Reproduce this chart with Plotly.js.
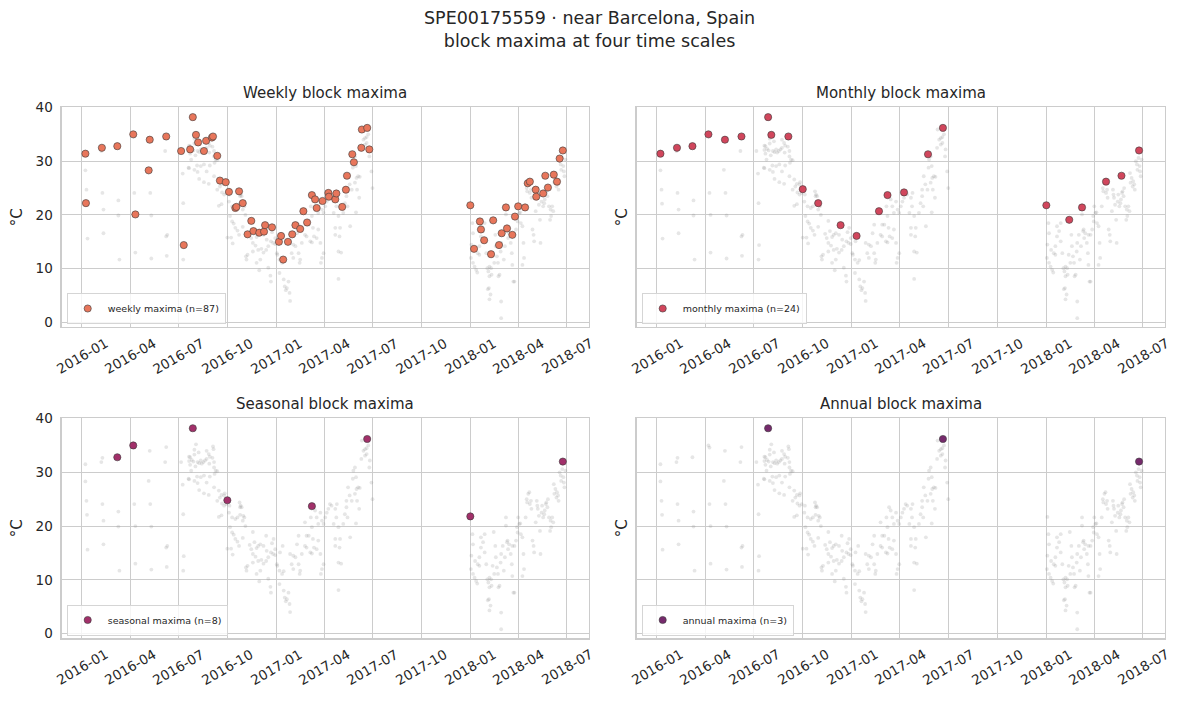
<!DOCTYPE html>
<html>
<head>
<meta charset="utf-8">
<script src="https://cdn.plot.ly/plotly-3.0.1.min.js"></script>
<style>html,body{margin:0;padding:0;background:#fff}#chart{width:1179px;height:702px}</style>
</head>
<body>
<div id="chart"></div>
<script>
// ---------------- DATA ----------------
// daily observations: days since 2016-01-01 and temperature (°C)
const dailyBase = '2016-01-01';
const dailyDays = [
  7,7,9,10,11, 37,39,39,41,41, 67,69,69,71, 97,99,99,101,101, 126,128,129,131,131, 157,159,159,161,160,
  187,190,191,192,191,202,202,209,
  215,212,220,235,247,248,239,204,207,202,212,224,229,232,235,241,246,218,210,204,214,221,226,240,249,252,255,249,
  201,212,217,224,230,241,250,235,218,206,
  221,230,239,249,258,263,260,268,269,
  255,264,272,278,268,277,258,263,283,289,293,298,
  279,283,286,289,293,281,274,284,296,
  297,299,301,298,304,303,308,306,303,322, 316,325,319,329,332,336,342,347,348,358,
  361,356,360,364,322,327,332,338,342,347, 351,309,310,329,336,351,355,356,334,322, 312,367,364,
  368,372,377,380,372,380,382,386,389,391, 392,384,378,373,392,398,402,405,408,410,
  411,414,420,423,427,430,433,435,437,442, 445,449,452,450,455,395,398,408,420,423,
  431,433,436,439,442,445,452,455,449,
  458,461,464,467,470,477,480,474,479,483, 486,485,477,477,483,488,483,492,495,498,
  500,505,498,501,504,508,514,517,520,523, 518,522,516,510,511,514,516,526,530,533,
  536,539,541,542,545,547,536,533,527,537,
  733,735,736,733,732,736,739,742,744,740, 745,748,751,748,751,755,758,761,758,763,
  765,767,770,771,773,776,775,778,779,783, 781,784,786,788,789,792,794,796,798,798,
  800,801,802,804,807,809,810,812,810,814, 817,819,820,821,823,825,826,829,831,832,
  829,835,837,838,840,842,843,845,846,848, 850,851,854,856,857,858,860,862,863,865,
  866,868,870,871,873,874,876,877,879,881, 882,883,885,887,888,889,891,893,894,896,
  897,899,901,902,904,906,907,908,910,764, 767,766,769,789,789,814,767,905
];
const dailyTemps = [
  31.5,28.3,24.7,22.1,15.6, 31.9,32.7,24.1,21.0,16.6, 32.8,22.7,19.9,11.7, 35.0,34.6,24.1,20.0,13.0, 28.4,34.0,24.1,19.9,11.9, 31.9,34.7,16.0,16.3,12.4,
  31.9,27.7,22.2,14.4,11.7,32.9,28.7,38.2,
  35.2,34.2,33.7,34.0,34.8,34.3,33.4,32.8,32.3,32.1,33.3,32.2,31.9,32.2,32.5,32.9,32.7,31.9,32.0,31.4,31.1,31.7,31.6,31.6,31.9,30.3,30.2,30.9,
  28.8,28.4,29.2,29.1,29.4,29.2,29.7,28.1,28.0,30.3,
  26.7,26.1,25.8,27.2,26.6,25.8,25.3,25.7,26.1,
  24.7,24.2,24.1,23.8,23.8,22.5,21.7,22.0,21.6,21.3,21.6,23.5,
  19.8,18.8,18.4,17.6,17.1,15.8,15.8,14.7,16.3,
  24.4,23.8,23.5,22.1,21.9,21.0,20.0,21.6,17.8,18.9, 16.5,17.0,15.7,15.9,16.3,16.6,16.3,18.2,15.4,16.8,
  17.6,15.1,14.8,14.6,14.8,14.3,13.5,13.7,13.0,13.5, 14.2,12.3,11.7,11.1,11.7,10.2,8.7,7.6,9.7,13.2, 12.6,12.9,15.7,
  12.6,11.7,11.1,11.6,9.2,8.0,6.7,6.4,7.6,5.5, 4.0,6.0,16.3,15.1,14.8,14.5,14.2,16.6,12.9,11.1,
  11.7,14.8,16.3,16.0,18.2,15.1,14.9,17.6,16.0,15.7, 17.3,14.8,12.0,11.1,12.9,12.9,12.0,18.2,20.7,18.2,
  21.6,19.8,23.5,22.9,21.6,20.4,21.0,20.4,22.5,
  21.6,22.5,23.2,24.1,23.8,23.2,24.1,20.4,21.6,19.8, 17.6,16.0,16.3,17.6,13.2,13.0,8.1,20.4,22.2,23.5,
  21.6,17.9,24.7,27.2,25.7,24.7,26.0,26.9,27.2,27.1, 24.7,23.2,20.5,28.8,30.3,30.9,29.1,32.5,34.0,34.3,
  34.5,35.0,30.9,32.2,28.1,25.0,33.4,33.1,35.9,36.2,
  21.7,18.5,16.6,14.5,12.0,11.1,10.4,9.8,9.3,13.5, 12.9,14.2,16.0,12.6,17.9,17.0,15.1,12.9,18.5,10.1,
  9.5,10.4,10.1,8.9,12.6,11.1,18.9,16.3,14.2,11.1, 12.3,8.6,8.9,13.2,14.8,16.3,11.7,14.2,21.6,20.1,
  17.0,17.3,15.7,16.6,14.8,12.9,10.7,7.6,16.3,16.3, 17.3,19.8,18.8,21.6,20.4,20.5,18.5,17.9,14.8,12.0,
  10.7,21.6,25.0,24.4,26.0,26.3,24.1,24.7,23.2,17.3, 16.3,15.1,20.7,24.7,23.8,23.2,21.9,19.1,14.8,22.5,
  23.8,21.6,22.2,22.9,24.1,24.4,23.5,25.0,21.6,19.1, 21.0,19.8,21.6,20.7,27.8,26.0,26.9,25.3,26.3,25.7,
  24.7,30.0,29.4,28.4,30.6,29.1,28.1,27.2,30.3,6.2, 4.3,6.4,5.2,3.9,0.8,7.6,8.6,32.0
];

const weeklyDates = [
  '2016-01-08','2016-01-09','2016-02-08','2016-03-08','2016-04-07','2016-04-11','2016-05-06','2016-05-08','2016-06-08',
  '2016-07-06','2016-07-11','2016-07-23','2016-07-28','2016-08-03','2016-08-07','2016-08-18','2016-08-22',
  '2016-09-02','2016-09-04','2016-09-12','2016-09-17','2016-09-28','2016-10-04','2016-10-16','2016-10-18','2016-10-23','2016-10-30',
  '2016-11-08','2016-11-15','2016-11-19','2016-11-30','2016-12-09','2016-12-11','2016-12-24',
  '2017-01-06','2017-01-10','2017-01-14','2017-01-23','2017-01-31','2017-02-06','2017-02-15','2017-02-21','2017-02-28',
  '2017-03-09','2017-03-15','2017-03-18','2017-03-29','2017-04-09','2017-04-10','2017-04-22','2017-04-24',
  '2017-05-05','2017-05-12','2017-05-14','2017-05-24','2017-05-27','2017-06-10','2017-06-11','2017-06-21','2017-06-25',
  '2018-01-01','2018-01-08','2018-01-19','2018-01-21','2018-01-27','2018-02-09','2018-02-13','2018-02-24',
  '2018-03-01','2018-03-09','2018-03-11','2018-03-21','2018-03-26','2018-04-01','2018-04-14','2018-04-19','2018-04-23',
  '2018-05-04','2018-05-05','2018-05-18','2018-05-22','2018-05-27','2018-06-07','2018-06-13','2018-06-18','2018-06-24'
];
const weeklyTemps = [
  31.4,22.2,32.5,32.8,35.0,20.1,28.3,34.0,34.6,
  31.9,14.4,32.2,38.2,34.9,33.5,31.9,33.8,
  34.4,34.6,31.0,26.4,26.1,24.3,21.3,21.5,24.4,22.2,
  16.4,18.9,17.0,16.7,16.9,18.1,17.7,
  15.0,16.1,11.7,15.0,16.4,18.1,17.4,20.7,18.6,
  23.7,22.9,21.3,22.6,24.1,23.4,22.9,24.0,
  21.5,24.7,27.3,31.3,29.8,32.5,35.9,36.2,32.2,
  21.8,13.7,18.8,17.3,15.3,12.7,19.0,14.4,
  16.6,21.4,17.5,16.3,19.7,21.6,21.4,25.9,26.2,
  24.7,23.4,24.0,27.3,25.1,27.5,26.2,30.5,32.0
];

const monthlyDates = [
  '2016-01-08','2016-02-08','2016-03-08','2016-04-07','2016-05-08','2016-06-08','2016-07-28','2016-08-03',
  '2016-09-04','2016-10-01','2016-10-30','2016-12-11','2017-01-10','2017-02-21','2017-03-09','2017-04-09',
  '2017-05-24','2017-06-21','2018-01-01','2018-02-13','2018-03-09','2018-04-23','2018-05-22','2018-06-24'
];
const monthlyTemps = [
  31.4,32.5,32.8,35.0,34.0,34.6,38.2,34.9,
  34.6,24.8,22.2,18.1,16.1,20.7,23.7,24.2,
  31.3,36.2,21.8,19.1,21.4,26.2,27.3,32.0
];

const seasonalDates = ['2016-03-08','2016-04-07','2016-07-28','2016-10-01','2017-03-09','2017-06-21','2018-01-01','2018-06-24'];
const seasonalTemps = [32.8,35.0,38.2,24.8,23.7,36.2,21.8,32.0];

const annualDates = ['2016-07-28','2017-06-21','2018-06-24'];
const annualTemps = [38.2,36.2,32.0];

const tickDates = ['2016-01-01','2016-04-01','2016-07-01','2016-10-01','2017-01-01','2017-04-01','2017-07-01','2017-10-01','2018-01-01','2018-04-01','2018-07-01'];
const tickLabels = ['2016-01','2016-04','2016-07','2016-10','2017-01','2017-04','2017-07','2017-10','2018-01','2018-04','2018-07'];
const yTicks = [0,10,20,30,40];

const mainTitle = 'SPE00175559 · near Barcelona, Spain<br>block maxima at four time scales';
const panelTitles = ['Weekly block maxima','Monthly block maxima','Seasonal block maxima','Annual block maxima'];
const seriesNames = ['weekly maxima (n=87)','monthly maxima (n=24)','seasonal maxima (n=8)','annual maxima (n=3)'];
const seriesColors = ['#E8765B','#D1465C','#A2306A','#762A6C'];

// ---------------- BUILD ----------------
function dayToDate(d){
  const t = Date.parse(dailyBase + 'T00:00:00Z') + d*86400000;
  return new Date(t).toISOString().slice(0,10);
}
const dailyDates = dailyDays.map(dayToDate);

const seriesX = [weeklyDates, monthlyDates, seasonalDates, annualDates];
const seriesY = [weeklyTemps, monthlyTemps, seasonalTemps, annualTemps];

const FONT = 'DejaVu Sans, sans-serif';
const TXT = '#262626';
const W = 1179, H = 702;
const xDom = [[61.7/W, 588.7/W], [636.7/W, 1165/W]];
const yDom = [[1-327.2/H, 1-107.2/H], [1-638.3/H, 1-418.3/H]];
const XRANGE = ['2015-11-24 10:00', '2018-08-11 16:00'];
const YRANGE = [-0.88, 40.05];

const traces = [];
const layout = {
  width: W, height: H,
  margin: {l:0, r:0, t:0, b:0},
  paper_bgcolor: '#fff', plot_bgcolor: '#fff',
  font: {family: FONT, color: TXT},
  showlegend: true,
  annotations: [{
    text: mainTitle, xref: 'paper', yref: 'paper', x: 0.5, y: 1,
    xanchor: 'center', yanchor: 'top', yshift: -6, showarrow: false,
    font: {family: FONT, size: 17.5, color: TXT}
  }]
};

for (let i = 0; i < 4; i++) {
  const col = i % 2, row = Math.floor(i / 2);
  const sfx = i === 0 ? '' : String(i + 1);
  const xa = 'x' + sfx, ya = 'y' + sfx;
  const legKey = i === 0 ? 'legend' : 'legend' + (i + 1);

  layout['xaxis' + sfx] = {
    domain: xDom[col], anchor: ya, type: 'date', range: XRANGE,
    tickmode: 'array', tickvals: tickDates, showticklabels: false, ticks: '',
    showgrid: true, gridcolor: '#cccccc', gridwidth: 1,
    showline: true, mirror: true, linecolor: '#cccccc', linewidth: 1.25,
    zeroline: false, fixedrange: true
  };
  layout['yaxis' + sfx] = {
    domain: yDom[row], anchor: xa, range: YRANGE,
    tickmode: 'array', tickvals: yTicks, showticklabels: col === 0,
    ticks: 'outside', ticklen: 5, tickcolor: 'rgba(0,0,0,0)',
    tickfont: {family: FONT, size: 13.5, color: TXT},
    showgrid: true, gridcolor: '#cccccc', gridwidth: 1,
    showline: true, mirror: true, linecolor: '#cccccc', linewidth: 1.25,
    zeroline: false, fixedrange: true
  };

  traces.push({
    type: 'scatter', mode: 'markers', x: dailyDates, y: dailyTemps,
    xaxis: xa, yaxis: ya, showlegend: false, hoverinfo: 'skip',
    marker: {size: 3.8, color: 'rgba(128,128,128,0.2)', line: {width: 0}}
  });
  traces.push({
    type: 'scatter', mode: 'markers', x: seriesX[i], y: seriesY[i],
    xaxis: xa, yaxis: ya, name: seriesNames[i], legend: legKey, showlegend: true,
    marker: {size: 7.2, color: seriesColors[i], line: {width: 0.6, color: '#3b3b3b'}}
  });

  layout[legKey] = {
    x: (col === 0 ? 66.7 : 66.7 + 575) / W,
    y: row === 0 ? 1 - 324/H : 1 - 635.5/H,
    xanchor: 'left', yanchor: 'bottom', xref: 'paper', yref: 'paper',
    bgcolor: 'rgba(255,255,255,0.8)', bordercolor: '#d5d5d5', borderwidth: 1,
    font: {family: FONT, size: 9.5, color: TXT}
  };

  // subplot title
  layout.annotations.push({
    text: panelTitles[i], xref: xa + ' domain', yref: ya + ' domain',
    x: 0.5, y: 1, xanchor: 'center', yanchor: 'bottom', yshift: 3,
    showarrow: false, font: {family: FONT, size: 15, color: TXT}
  });
  // y-axis title
  layout.annotations.push({
    text: '°C', xref: 'paper', yref: ya + ' domain',
    x: (col === 0 ? 17 : 622) / W, y: 0.5, xanchor: 'center', yanchor: 'middle',
    textangle: -90, showarrow: false, font: {family: FONT, size: 15, color: TXT}
  });
  // rotated x tick labels centred on their ticks
  tickDates.forEach((d, j) => {
    layout.annotations.push({
      text: tickLabels[j], xref: xa, yref: ya + ' domain',
      x: d, y: 0, xanchor: 'center', yanchor: 'top', yshift: -5,
      textangle: -30, showarrow: false,
      font: {family: FONT, size: 13.5, color: TXT}
    });
  });
}

Plotly.newPlot('chart', traces, layout, {staticPlot: true, displayModeBar: false});
</script>
</body>
</html>
